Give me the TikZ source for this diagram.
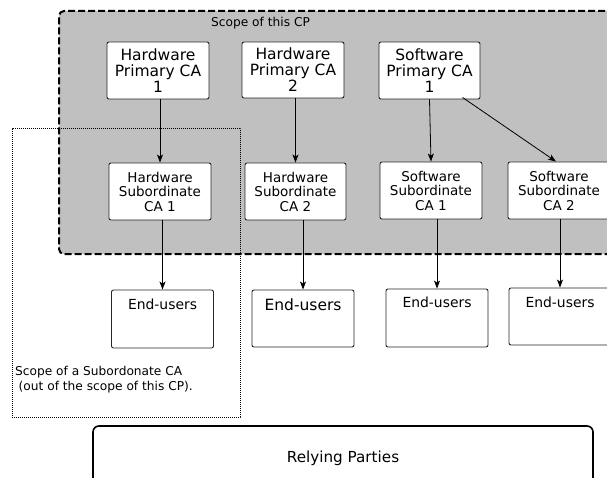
\documentclass[tikz,border=0pt]{standalone}
\usepackage{fontspec}
\setmainfont{DejaVu Sans}
\usetikzlibrary{arrows.meta}
\begin{document}
\begin{tikzpicture}[x=1pt,y=-1pt,
  cabox/.style={draw=black!85, fill=white, rounded corners=2pt, line width=0.9pt,
    minimum width=102pt, minimum height=57pt, inner sep=0pt, align=center},
  primfont/.style={font=\fontsize{15.5}{16}\selectfont},
  subfont/.style={font=\fontsize{13.5}{14.5}\selectfont},
  eubox/.style={draw=black!85, fill=white, rounded corners=2pt, line width=0.9pt,
    minimum width=102pt, minimum height=57pt, inner sep=0pt},
  arr/.style={-{Stealth[length=8pt,width=6pt,inset=2pt]}, line width=0.8pt},
  scopebox/.style={draw=black, fill={rgb,255:red,192;green,192;blue,192}, line width=2pt,
    dash pattern=on 7pt off 3pt, rounded corners=5pt, inner sep=0pt},
  subscope/.style={draw=black, line width=1pt, dash pattern=on 1.2pt off 0.8pt, inner sep=0pt}
]
\useasboundingbox (0,0) rectangle (607,478);

\node[scopebox, minimum width=561pt, minimum height=243pt] (scope) at (339.5,132.5) {};
\node[anchor=west, font=\fontsize{12.2}{14}\selectfont, inner sep=0pt] (scopet) at (211,23) {Scope of this CP};

\node[subscope, minimum width=228pt, minimum height=288pt] (subsc) at (126,273) {};
\node[anchor=north west, align=left, inner sep=0pt, font=\fontsize{12.2}{15}\selectfont] (subsct) at (15,366)
  {Scope of a Subordonate CA\\\hspace*{3.5pt}(out of the scope of this CP).};

% primary CAs
\node[cabox, primfont] (hp1) at (158,70.5) {Hardware\\Primary CA\\1};
\node[cabox, primfont, minimum height=56pt] (hp2) at (293,70) {Hardware\\Primary CA\\2};
\node[cabox, primfont, minimum width=101pt] (sp1) at (429.5,70.5) {Software\\Primary CA\\1};

% subordinate CAs
\node[cabox, subfont] (hs1) at (160,191.5) {Hardware\\Subordinate\\CA 1};
\node[cabox, subfont, minimum width=101pt] (hs2) at (295.5,191.5) {Hardware\\Subordinate\\CA 2};
\node[cabox, subfont] (ss1) at (431,190.5) {Software\\Subordinate\\CA 1};
\node[cabox, subfont] (ss2) at (559,190.5) {Software\\Subordinate\\CA 2};

% end users
\node[eubox, minimum height=58pt] (e1) at (162.5,319) {};
\node[eubox] (e2) at (303,318.5) {};
\node[eubox, minimum height=58pt] (e3) at (437,318) {};
\node[eubox] (e4) at (560,316.5) {};
\node[font=\fontsize{13.9}{16}\selectfont, inner sep=0pt] (e1t) at ([yshift=-15pt]e1.north) {End-users};
\node[font=\fontsize{15.5}{18}\selectfont, inner sep=0pt] (e2t) at ([yshift=-15pt]e2.north) {End-users};
\node[font=\fontsize{13.9}{16}\selectfont, inner sep=0pt] (e3t) at ([yshift=-14pt]e3.north) {End-users};
\node[font=\fontsize{13.9}{16}\selectfont, inner sep=0pt] (e4t) at ([yshift=-15pt]e4.north) {End-users};

% relying parties
\node[draw=black, line width=1.6pt, rounded corners=6pt, minimum width=500pt, minimum height=64pt,
  font=\fontsize{15.2}{18}\selectfont] (rp) at (343,458) {Relying Parties};

% arrows
\draw[arr] (hs1 |- hp1.south) -- (hs1.north);
\draw[arr] (hs2 |- hp2.south) -- (hs2.north);
\draw[arr] (sp1.south) -- (ss1.north);
\draw[arr] ([xshift=33pt,yshift=2pt]sp1.south) -- ([xshift=-3pt]ss2.north);
\draw[arr] (e1 |- hs1.south) -- (e1.north);
\draw[arr] (e2 |- hs2.south) -- (e2.north);
\draw[arr] (e3 |- ss1.south) -- (e3.north);
\draw[arr] (e4 |- ss2.south) -- (e4.north);
\end{tikzpicture}
\end{document}
